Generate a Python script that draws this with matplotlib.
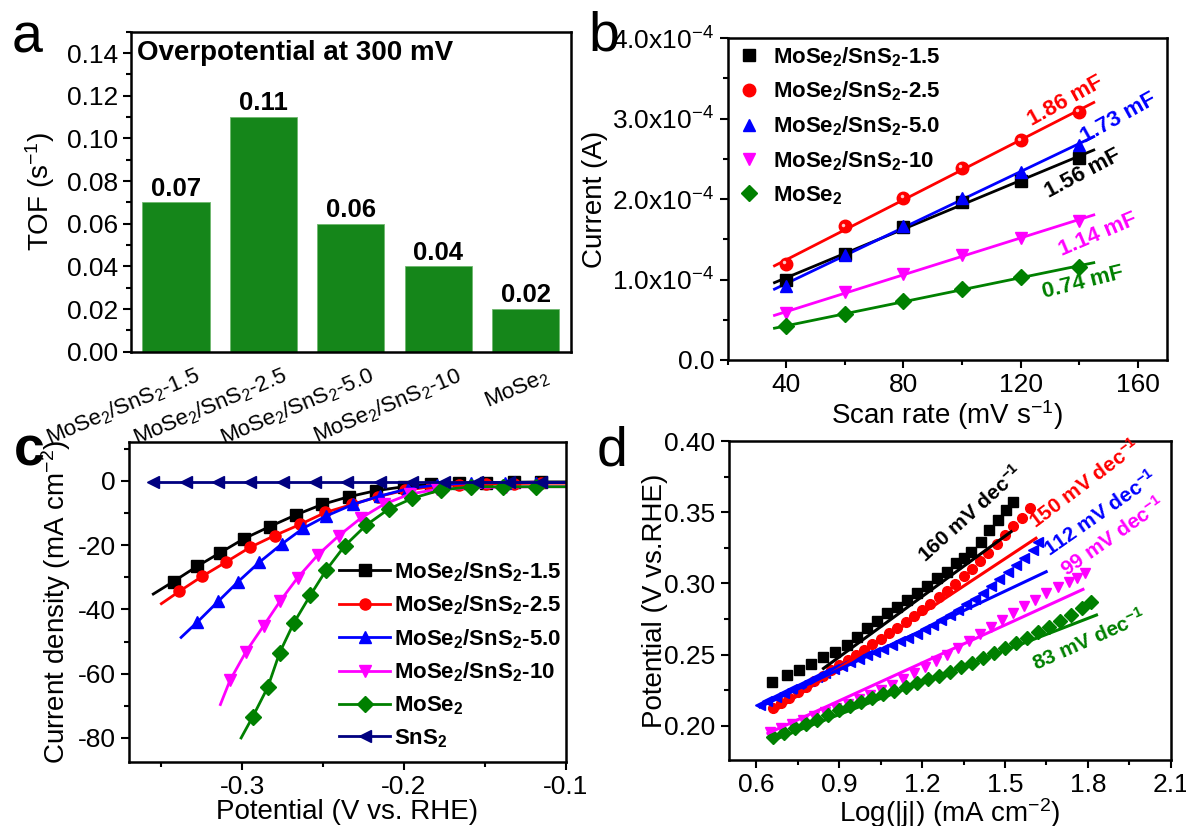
import numpy as np
import matplotlib
matplotlib.use("Agg")
import matplotlib.pyplot as plt
from matplotlib import transforms
from matplotlib.ticker import MultipleLocator, FuncFormatter, FormatStrFormatter

plt.rcParams['font.family'] = ['Liberation Sans', 'DejaVu Sans']
plt.rcParams['mathtext.fontset'] = 'custom'
plt.rcParams['mathtext.rm'] = 'Liberation Sans'
plt.rcParams['mathtext.bf'] = 'Liberation Sans:bold'
plt.rcParams['mathtext.default'] = 'regular'
plt.rcParams['axes.unicode_minus'] = False

# ---- panel a: TOF bars ----
a_labels = ['MoSe$_2$/SnS$_2$-1.5', 'MoSe$_2$/SnS$_2$-2.5', 'MoSe$_2$/SnS$_2$-5.0',
            'MoSe$_2$/SnS$_2$-10', 'MoSe$_2$']
a_tof = [0.07, 0.11, 0.06, 0.04, 0.02]

# ---- panel b: capacitive current vs scan rate ----
b_names = ['MoSe$_2$/SnS$_2$-1.5', 'MoSe$_2$/SnS$_2$-2.5', 'MoSe$_2$/SnS$_2$-5.0',
           'MoSe$_2$/SnS$_2$-10', 'MoSe$_2$']
b_scan = [40, 60, 80, 100, 120, 140]
b_i15 = [1.00e-4, 1.32e-4, 1.65e-4, 1.96e-4, 2.23e-4, 2.51e-4]
b_i25 = [1.19e-4, 1.66e-4, 2.01e-4, 2.39e-4, 2.73e-4, 3.08e-4]
b_i50 = [0.92e-4, 1.31e-4, 1.67e-4, 2.01e-4, 2.34e-4, 2.67e-4]
b_i10 = [0.58e-4, 0.84e-4, 1.07e-4, 1.30e-4, 1.52e-4, 1.73e-4]
b_imo = [0.42e-4, 0.57e-4, 0.73e-4, 0.88e-4, 1.03e-4, 1.16e-4]
b_fit_range = [36, 145]
b_cdl = ['1.56 mF', '1.86 mF', '1.73 mF', '1.14 mF', '0.74 mF']
b_cdl_x = [141.2, 135.3, 153.5, 146.6, 141.2]
b_cdl_y = [2.32e-4, 3.22e-4, 3.01e-4, 1.56e-4, 0.96e-4]
b_cdl_rot = [28, 29, 29, 23, 14]

# ---- panel c: polarization curves ----
c_names = ['MoSe$_2$/SnS$_2$-1.5', 'MoSe$_2$/SnS$_2$-2.5', 'MoSe$_2$/SnS$_2$-5.0',
           'MoSe$_2$/SnS$_2$-10', 'MoSe$_2$', 'SnS$_2$']
c_x15 = [-0.355, -0.3425, -0.328, -0.3135, -0.299, -0.283, -0.267, -0.2505, -0.234,
         -0.217, -0.200, -0.183, -0.166, -0.149, -0.132, -0.115, -0.100]
c_y15 = [-35.2, -31.3, -26.6, -22.3, -18.0, -14.2, -10.6, -7.3, -4.9,
         -3.0, -1.8, -1.1, -0.7, -0.5, -0.4, -0.3, -0.3]
c_x25 = [-0.350, -0.339, -0.3248, -0.3102, -0.2953, -0.2799, -0.2641, -0.2485, -0.232,
         -0.216, -0.1995, -0.183, -0.166, -0.149, -0.132, -0.115, -0.100]
c_y25 = [-38.2, -34.4, -29.7, -25.3, -20.7, -17.0, -13.5, -9.8, -7.3,
         -4.9, -2.9, -1.8, -1.2, -0.9, -0.8, -0.7, -0.7]
c_x50 = [-0.3378, -0.3277, -0.3149, -0.3024, -0.2894, -0.2757, -0.2622, -0.248, -0.2314,
         -0.2149, -0.1972, -0.1794, -0.1586, -0.1375, -0.118, -0.100]
c_y50 = [-48.7, -43.9, -37.5, -31.3, -25.3, -19.7, -14.7, -10.9, -7.3,
         -4.7, -2.4, -1.2, -0.6, -0.5, -0.5, -0.5]
c_x10 = [-0.3135, -0.3076, -0.2976, -0.2868, -0.2764, -0.2657, -0.2532, -0.2404, -0.2267,
         -0.2125, -0.1965, -0.1794, -0.158, -0.137, -0.118, -0.100]
c_y10 = [-69.6, -62.1, -53.1, -45.1, -37.3, -30.1, -23.0, -17.1, -11.6,
         -7.3, -4.1, -2.6, -2.1, -1.9, -1.8, -1.8]
c_xmo = [-0.3007, -0.2936, -0.2842, -0.2768, -0.2681, -0.2579, -0.248, -0.2366, -0.2232,
         -0.2095, -0.1948, -0.1771, -0.1582, -0.1385, -0.1184, -0.100]
c_ymo = [-80.0, -73.5, -64.2, -53.4, -44.2, -35.6, -27.7, -20.2, -13.7,
         -8.8, -5.4, -2.8, -1.8, -1.8, -1.8, -1.8]
c_xsn = [-0.355, -0.335, -0.315, -0.295, -0.275, -0.255, -0.235, -0.215, -0.195,
         -0.175, -0.155, -0.135, -0.115, -0.100]
c_ysn = [-0.4] * len(c_xsn)

# ---- panel d: Tafel plots ----
d_x15 = [0.656, 0.710, 0.756, 0.798, 0.843, 0.886, 0.928, 0.964, 1.001, 1.037, 1.073,
         1.110, 1.146, 1.182, 1.219, 1.255, 1.291, 1.322, 1.350, 1.376, 1.413, 1.443,
         1.473, 1.504, 1.528]
d_y15 = [0.2309, 0.2356, 0.2391, 0.2433, 0.2480, 0.2520, 0.2567, 0.2625, 0.2684, 0.2738,
         0.2789, 0.2836, 0.2883, 0.2930, 0.2981, 0.3035, 0.3082, 0.3141, 0.3180, 0.3222,
         0.3293, 0.3375, 0.3445, 0.3515, 0.3574]
d_x25 = [0.661, 0.69, 0.72, 0.75, 0.78, 0.81, 0.84, 0.87, 0.90, 0.93, 0.96, 0.99, 1.02,
         1.05, 1.08, 1.11, 1.14, 1.17, 1.20, 1.23, 1.26, 1.29, 1.32, 1.35, 1.38, 1.41,
         1.44, 1.47, 1.50, 1.53, 1.56, 1.59]
d_y25 = [0.2122, 0.2159, 0.2198, 0.2237, 0.2276, 0.2314, 0.2351, 0.2389, 0.2426, 0.2462,
         0.2498, 0.2534, 0.2572, 0.2611, 0.2650, 0.2690, 0.2731, 0.2773, 0.2815, 0.2858,
         0.2903, 0.2950, 0.2999, 0.3050, 0.3103, 0.3158, 0.3215, 0.3275, 0.3337, 0.3400,
         0.3462, 0.3527]
d_x50 = [0.613, 0.64, 0.67, 0.70, 0.73, 0.76, 0.79, 0.82, 0.85, 0.88, 0.91, 0.94, 0.97,
         1.00, 1.03, 1.06, 1.09, 1.12, 1.15, 1.18, 1.21, 1.24, 1.27, 1.30, 1.33, 1.36,
         1.39, 1.42, 1.45, 1.48, 1.51, 1.54, 1.57, 1.60, 1.62]
d_y50 = [0.2145, 0.2173, 0.2202, 0.2231, 0.2260, 0.2290, 0.2318, 0.2345, 0.2372, 0.2398,
         0.2423, 0.2448, 0.2471, 0.2494, 0.2518, 0.2542, 0.2567, 0.2593, 0.2620, 0.2648,
         0.2677, 0.2708, 0.2741, 0.2776, 0.2813, 0.2852, 0.2893, 0.2936, 0.2981, 0.3028,
         0.3077, 0.3128, 0.3181, 0.3236, 0.3293]
d_x10 = [0.649, 0.69, 0.73, 0.77, 0.81, 0.85, 0.89, 0.93, 0.97, 1.01, 1.05, 1.09, 1.13,
         1.17, 1.21, 1.25, 1.29, 1.33, 1.37, 1.41, 1.45, 1.49, 1.53, 1.57, 1.61, 1.65,
         1.69, 1.73, 1.76, 1.788]
d_y10 = [0.1958, 0.1984, 0.2012, 0.2042, 0.2070, 0.2099, 0.2128, 0.2156, 0.2185, 0.2218,
         0.2252, 0.2290, 0.2330, 0.2371, 0.2413, 0.2456, 0.2500, 0.2549, 0.2598, 0.2648,
         0.2697, 0.2745, 0.2793, 0.2840, 0.2886, 0.2930, 0.2972, 0.3012, 0.3040, 0.3071]
d_xmo = [0.661, 0.70, 0.74, 0.78, 0.82, 0.86, 0.90, 0.94, 0.98, 1.02, 1.06, 1.10, 1.14,
         1.18, 1.22, 1.26, 1.30, 1.34, 1.38, 1.42, 1.46, 1.50, 1.54, 1.58, 1.62, 1.66,
         1.70, 1.74, 1.78, 1.81]
d_ymo = [0.1923, 0.1952, 0.1982, 0.2013, 0.2044, 0.2075, 0.2108, 0.2137, 0.2165, 0.2193,
         0.2221, 0.2248, 0.2274, 0.2300, 0.2326, 0.2352, 0.2380, 0.2410, 0.2442, 0.2475,
         0.2510, 0.2546, 0.2582, 0.2618, 0.2656, 0.2696, 0.2737, 0.2780, 0.2828, 0.2871]
# fitted Tafel lines: (x0, x1), (y0, y1)
d_fit_x = [(0.843, 1.522), (0.661, 1.612), (0.613, 1.649), (0.642, 1.782), (0.661, 1.831)]
d_fit_y = [(0.2403, 0.3363), (0.2098, 0.3317), (0.2133, 0.3082), (0.1947, 0.2958), (0.1900, 0.2778)]
d_slope_txt = ['160 mV dec$^{-1}$', '150 mV dec$^{-1}$', '112 mV dec$^{-1}$',
               '99 mV dec$^{-1}$', '83 mV dec$^{-1}$']
d_slope_x = [1.373, 1.787, 1.846, 1.888, 1.805]
d_slope_y = [0.349, 0.370, 0.349, 0.333, 0.260]
d_slope_rot = [42, 37, 35, 35, 24]

COLORS = ['black', '#ff0000', '#0000ff', '#ff00ff', '#008000']
BAR_GREEN = '#15861a'
TICK_FS = 19
LABEL_FS = 20


def style_axes(ax):
    for s in ax.spines.values():
        s.set_linewidth(1.8)
    ax.tick_params(which='both', direction='out', width=1.5, labelsize=TICK_FS,
                   top=False, right=False)
    ax.tick_params(which='major', length=6)
    ax.tick_params(which='minor', length=3.5)


fig = plt.figure(figsize=(11.86, 8.26), dpi=100)

# ---------------- a ----------------
ax = fig.add_axes([0.1105, 0.5742, 0.371, 0.3874])
style_axes(ax)
xs = np.arange(len(a_tof))
ax.bar(xs, a_tof, width=0.77, color=BAR_GREEN, edgecolor='#6fb86f', linewidth=0.6)
for x, v in zip(xs, a_tof):
    ax.text(x, v + 0.0031, f'{v:.2f}', ha='center', va='baseline',
            fontsize=18.5, fontweight='bold')
ax.set_xlim(-0.515, 4.52)
ax.set_ylim(0, 0.15)
ax.yaxis.set_major_locator(MultipleLocator(0.02))
ax.yaxis.set_minor_locator(MultipleLocator(0.01))
ax.yaxis.set_major_formatter(FormatStrFormatter('%.2f'))
ax.set_xticks(xs)
ax.set_xticklabels([])
ax.tick_params(axis='x', which='both', length=0)
lab_tr = transforms.offset_copy(ax.get_xaxis_transform(), fig=fig, x=25, y=-29, units='dots')
for x, lab in zip(xs, a_labels):
    ax.text(x, 0, lab, transform=lab_tr, rotation=23, rotation_mode='anchor',
            ha='right', va='baseline', fontsize=16)
ax.text(0.014, 0.933, 'Overpotential at 300 mV', transform=ax.transAxes,
        ha='left', va='center', fontsize=20, fontweight='bold')
ax.set_ylabel('TOF (s$^{-1}$)', fontsize=LABEL_FS)
ax.yaxis.set_label_coords(-0.168, 0.5)

# ---------------- b ----------------
ax = fig.add_axes([0.6135, 0.5642, 0.3705, 0.3895])
style_axes(ax)
b_series = [b_i15, b_i25, b_i50, b_i10, b_imo]
b_marks = ['s', 'o', '^', 'v', 'D']
b_ms = [8, 9, 9, 9, 8]
fx = np.array(b_fit_range, dtype=float)
hl_tr = transforms.offset_copy(ax.transData, fig=fig, x=-1.3, y=1.3, units='points')
for name, ys, mk, ms, col in zip(b_names, b_series, b_marks, b_ms, COLORS):
    k, b0 = np.polyfit(b_scan, ys, 1)
    ax.plot(fx, k * fx + b0, color=col, lw=2.0, zorder=2)
    ax.plot(b_scan, ys, mk, color=col, ms=ms, mec=col, label=name, zorder=3)
    if mk == 'o':
        # small highlight on the sphere-like markers
        ax.plot(b_scan, ys, 'o', color='#ffc8c8', ms=2.5, mew=0, zorder=4, transform=hl_tr)
for txt, x, y, r, col in zip(b_cdl, b_cdl_x, b_cdl_y, b_cdl_rot, COLORS):
    ax.text(x, y, txt, color=col, rotation=r, rotation_mode='anchor',
            ha='center', va='center', fontsize=16, fontweight='bold')
ax.set_xlim(20, 170)
ax.set_ylim(0, 4.0e-4)
ax.xaxis.set_major_locator(MultipleLocator(40))
ax.xaxis.set_minor_locator(MultipleLocator(20))
ax.yaxis.set_major_locator(MultipleLocator(1e-4))
ax.yaxis.set_minor_locator(MultipleLocator(0.5e-4))
ax.yaxis.set_major_formatter(FuncFormatter(
    lambda v, p: '0.0' if abs(v) < 1e-12 else f'{v * 1e4:.1f}x10$^{{-4}}$'))
ax.set_xlabel('Scan rate (mV s$^{-1}$)', fontsize=LABEL_FS)
ax.xaxis.set_label_coords(0.5, -0.119)
ax.set_ylabel('Current (A)', fontsize=LABEL_FS)
ax.yaxis.set_label_coords(-0.272, 0.5)
ax.legend(loc='upper left', bbox_to_anchor=(-0.008, 1.02), frameon=False,
          borderaxespad=0.2, handlelength=1.0, handletextpad=0.6,
          labelspacing=0.5, prop={'size': 16, 'weight': 'bold'})

# ---------------- c ----------------
ax = fig.add_axes([0.1088, 0.0778, 0.3681, 0.3874])
style_axes(ax)
c_xs = [c_x15, c_x25, c_x50, c_x10, c_xmo, c_xsn]
c_ys = [c_y15, c_y25, c_y50, c_y10, c_ymo, c_ysn]
c_marks = ['s', 'o', '^', 'v', 'D', '<']
c_cols = COLORS + ['#000080']
for name, x, y, mk, col in zip(c_names, c_xs, c_ys, c_marks, c_cols):
    n = len(x)
    ax.plot(x, y, '-', marker=mk, color=col, lw=2.0, ms=8,
            markevery=list(range(1, n - 1)) if mk != '<' else list(range(0, n - 1)),
            label=name)
ax.set_xlim(-0.37, -0.1)
ax.set_ylim(-87.4, 12.2)
ax.set_xticks([-0.3, -0.2, -0.1])
ax.xaxis.set_major_formatter(FormatStrFormatter('%.1f'))
ax.xaxis.set_minor_locator(MultipleLocator(0.05))
ax.yaxis.set_major_locator(MultipleLocator(20))
ax.yaxis.set_minor_locator(MultipleLocator(10))
ax.yaxis.set_major_formatter(FormatStrFormatter('%d'))
ax.set_xlabel('Potential (V vs. RHE)', fontsize=LABEL_FS)
ax.xaxis.set_label_coords(0.5, -0.115)
ax.set_ylabel('Current density (mA cm$^{-2}$)', fontsize=LABEL_FS)
ax.yaxis.set_label_coords(-0.128, 0.5)
ax.legend(loc='lower right', bbox_to_anchor=(1.018, 0.0), frameon=False,
          borderaxespad=0.15, handlelength=2.3, handletextpad=0.15,
          labelspacing=0.45, prop={'size': 16, 'weight': 'bold'})

# ---------------- d ----------------
ax = fig.add_axes([0.6144, 0.0799, 0.3728, 0.3862])
style_axes(ax)
d_xs = [d_x15, d_x25, d_x50, d_x10, d_xmo]
d_ys = [d_y15, d_y25, d_y50, d_y10, d_ymo]
d_marks = ['s', 'o', '<', 'v', 'D']
for x, y, mk, col in zip(d_xs, d_ys, d_marks, COLORS):
    ax.plot(x, y, mk, color=col, ms=7, zorder=2)
for (x0, x1), (y0, y1), col in zip(d_fit_x, d_fit_y, COLORS):
    ax.plot([x0, x1], [y0, y1], '-', color=col, lw=2.2, zorder=3)
for txt, x, y, r, col in zip(d_slope_txt, d_slope_x, d_slope_y, d_slope_rot, COLORS):
    ax.text(x, y, txt, color=col, rotation=r, rotation_mode='anchor',
            ha='center', va='center', fontsize=15, fontweight='bold')
ax.set_xlim(0.5, 2.1)
ax.set_ylim(0.176, 0.40)
ax.set_xticks([0.6, 0.9, 1.2, 1.5, 1.8, 2.1])
ax.xaxis.set_major_formatter(FormatStrFormatter('%.1f'))
ax.xaxis.set_minor_locator(MultipleLocator(0.15))
ax.yaxis.set_major_locator(MultipleLocator(0.05))
ax.yaxis.set_minor_locator(MultipleLocator(0.025))
ax.yaxis.set_major_formatter(FormatStrFormatter('%.2f'))
ax.set_xlabel('Log(|j|) (mA cm$^{-2}$)', fontsize=LABEL_FS)
ax.xaxis.set_label_coords(0.5, -0.113)
ax.set_ylabel('Potential (V vs.RHE)', fontsize=LABEL_FS)
ax.yaxis.set_label_coords(-0.137, 0.5)

# panel letters
fig.text(0.010, 0.936, 'a', fontsize=40, ha='left', va='baseline')
fig.text(0.496, 0.939, 'b', fontsize=40, ha='left', va='baseline')
fig.text(0.012, 0.437, 'c', fontsize=40, ha='left', va='baseline', fontweight='bold')
fig.text(0.503, 0.437, 'd', fontsize=40, ha='left', va='baseline')

fig.savefig('out.png', dpi=100)
